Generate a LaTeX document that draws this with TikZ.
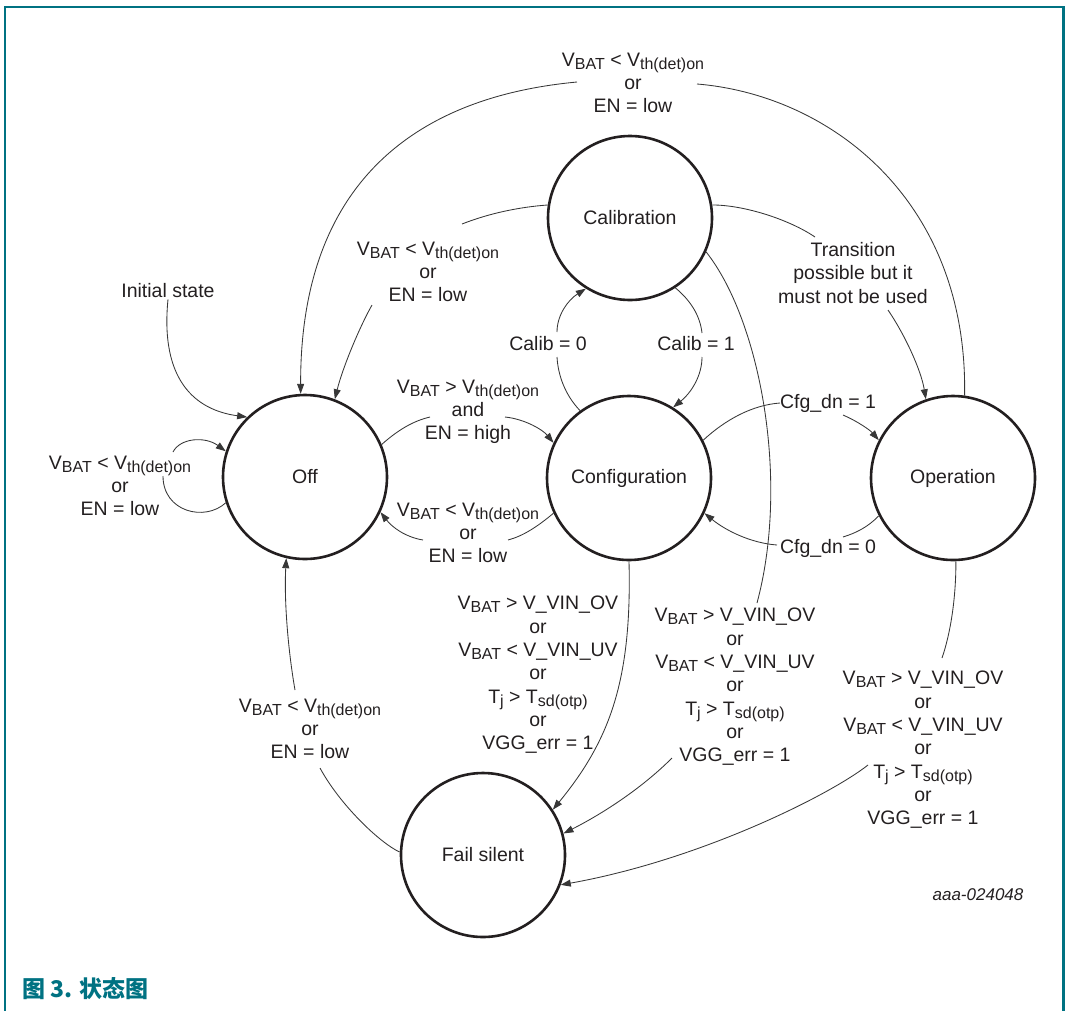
\documentclass[tikz,border=0pt]{standalone}
\usepackage{fontspec}
\setmainfont{Liberation Sans}
\newfontfamily\cjk{Noto Sans CJK SC}
\usetikzlibrary{arrows.meta}
\definecolor{frameteal}{RGB}{0,114,130}
\definecolor{ink}{RGB}{35,31,32}
\definecolor{wirecol}{RGB}{55,55,55}
% lowered, smaller subscript text
\newcommand\lo[1]{\raisebox{-3pt}{\fontsize{16}{16}\selectfont #1}}

\begin{document}
\begin{tikzpicture}[x=1pt,y=-1pt,
  state/.style={circle, draw=ink, line width=2.6pt, minimum size=164pt, inner sep=0pt,
                text=ink, font=\fontsize{19.5}{23}\selectfont},
  cond/.style={align=center, text=ink, inner sep=1pt, font=\fontsize{19.5}{23.3}\selectfont},
  wire/.style={draw=wirecol, line width=0.85pt},
  arr/.style={wire, -{Triangle[length=10pt,width=7pt]}},
]
\useasboundingbox (0,0) rectangle (1065,1010);

% page frame
\draw[frameteal, line width=2.6pt] (5,1020) -- (5,7) -- (1063.5,7) -- (1063.5,1020);

% states
\node[state] (off)  at (305,477) {Off};
\node[state] (cal)  at (630,218) {Calibration};
\node[state] (conf) at (629,478) {Configuration};
\node[state] (op)   at (953,478) {Operation};
\node[state] (fail) at (483,855) {Fail silent};

% transition conditions
\node[cond] (lTop)    at (633,83)  {V\lo{BAT} < V\lo{th(det)on}\\or\\EN = low};
\node[cond] (lCalOff) at (428,272) {V\lo{BAT} < V\lo{th(det)on}\\or\\EN = low};
\node[cond] (lLoop)   at (120,486) {V\lo{BAT} < V\lo{th(det)on}\\or\\EN = low};
\node[cond] (lOn)     at (468,412) {V\lo{BAT} > V\lo{th(det)on}\\and\\EN = high};
\node[cond] (lBack)   at (468,533) {V\lo{BAT} < V\lo{th(det)on}\\or\\EN = low};
\node[cond] (lInit)   at (168,291) {Initial state};
\node[cond] (lC0)     at (548,344) {Calib = 0};
\node[cond] (lC1)     at (696,344) {Calib = 1};
\node[cond] (lTrans)  at (853,273) {Transition\\possible but it\\must not be used};
\node[cond] (lCfg1)   at (828,403) {Cfg\_dn = 1};
\node[cond] (lCfg0)   at (828,548) {Cfg\_dn = 0};
\node[cond] (lF1) at (538,675) {V\lo{BAT} > V\_VIN\_OV\\or\\V\lo{BAT} < V\_VIN\_UV\\or\\T\lo{j} > T\lo{sd(otp)}\\or\\VGG\_err = 1};
\node[cond] (lF2) at (735,687) {V\lo{BAT} > V\_VIN\_OV\\or\\V\lo{BAT} < V\_VIN\_UV\\or\\T\lo{j} > T\lo{sd(otp)}\\or\\VGG\_err = 1};
\node[cond] (lF3) at (923,750) {V\lo{BAT} > V\_VIN\_OV\\or\\V\lo{BAT} < V\_VIN\_UV\\or\\T\lo{j} > T\lo{sd(otp)}\\or\\VGG\_err = 1};
\node[cond] (lFOff) at (310,729) {V\lo{BAT} < V\lo{th(det)on}\\or\\EN = low};

\node[text=ink, font=\fontsize{17}{20}\selectfont\itshape] (tag) at (978,895) {aaa-024048};
\node[anchor=west, inner sep=0pt, text=frameteal, font=\fontsize{23}{27}\selectfont\cjk\bfseries] (caption) at (22,989) {图 3. 状态图};

% ends of connectors that stop at their condition text
\coordinate (tR)  at (697,84);
\coordinate (tL)  at (577,82);
\coordinate (cA)  at (462,224);
\coordinate (cB)  at (372,305);
\coordinate (sA)  at (163,476);
\coordinate (sB)  at (173,452);
\coordinate (oA)  at (430,417);
\coordinate (oB)  at (505,417);
\coordinate (bA)  at (508,540);
\coordinate (bB)  at (423,540);
\coordinate (z0A) at (557,357);
\coordinate (z0B) at (557,332);
\coordinate (z1A) at (702,333);
\coordinate (z1B) at (702,357);
\coordinate (trA) at (815,237);
\coordinate (trB) at (888,310);
\coordinate (g1A) at (780,403);
\coordinate (g1B) at (843,415);
\coordinate (g0A) at (843,537);
\coordinate (g0B) at (777,545);
\coordinate (k1)  at (757,603);
\coordinate (k2)  at (672,758);
\coordinate (m1)  at (942,658);
\coordinate (m2)  at (868,765);
\coordinate (f1)  at (320,768);
\coordinate (f2)  at (295,690);

% Operation -> Off (over the top)
\draw[wire] (op.82) .. controls (968,200) and (830,95) .. (tR);
\draw[arr]  (tL) .. controls (470,92) and (300,140) .. (off.93);

% Calibration -> Off
\draw[wire] (cal.171) .. controls (520,207) and (490,213) .. (cA);
\draw[arr]  (cB) .. controls (358,330) and (342,370) .. (off.69);

% initial state
\draw[arr] (lInit.south) .. controls (160,380) and (195,410) .. (off.134);

% Off self loop
\draw[wire] (off.198) .. controls (205,522) and (163,512) .. (sA);
\draw[arr]  (sB) .. controls (180,438) and (205,436) .. (off.162);

% Off -> Configuration
\draw[wire] (off.23) .. controls (398,430) and (413,421) .. (oA);
\draw[arr]  (oB) .. controls (525,419) and (543,430) .. (conf.155);

% Configuration -> Off
\draw[wire] (conf.205) .. controls (537,527) and (523,536) .. (bA);
\draw[arr]  (bB) .. controls (405,537) and (392,527) .. (off.335);

% Calib = 0
\draw[wire] (conf.126) .. controls (565,395) and (558,375) .. (z0A);
\draw[arr]  (z0B) .. controls (557,315) and (568,300) .. (cal.238);

% Calib = 1
\draw[wire] (cal.303) .. controls (690,300) and (700,315) .. (z1A);
\draw[arr]  (z1B) .. controls (702,375) and (692,392) .. (conf.58);

% Calibration -> Operation
\draw[wire] (cal.9) .. controls (745,205) and (790,220) .. (trA);
\draw[arr]  (trB) .. controls (905,335) and (921,370) .. (op.109);

% Cfg_dn = 1
\draw[wire] (conf.27) .. controls (725,420) and (752,405) .. (g1A);
\draw[arr]  (g1B) .. controls (857,421) and (870,430) .. (op.153);

% Cfg_dn = 0
\draw[wire] (op.207) .. controls (868,527) and (856,533) .. (g0A);
\draw[arr]  (g0B) .. controls (750,543) and (725,530) .. (conf.335);

% Configuration -> Fail silent
\draw[arr] (conf.270) .. controls (632,680) and (610,740) .. (fail.33);

% Calibration -> Fail silent
\draw[wire] (cal.336) .. controls (760,320) and (790,480) .. (k1);
\draw[arr]  (k2) .. controls (640,790) and (600,815) .. (fail.15);

% Operation -> Fail silent
\draw[wire] (op.272) .. controls (956,600) and (950,635) .. (m1);
\draw[arr]  (m2) .. controls (830,795) and (700,860) .. (fail.-21);

% Fail silent -> Off
\draw[wire] (fail.178) .. controls (380,843) and (340,805) .. (f1);
\draw[arr]  (f2) .. controls (288,650) and (284,600) .. (off.257);
\end{tikzpicture}
\end{document}
